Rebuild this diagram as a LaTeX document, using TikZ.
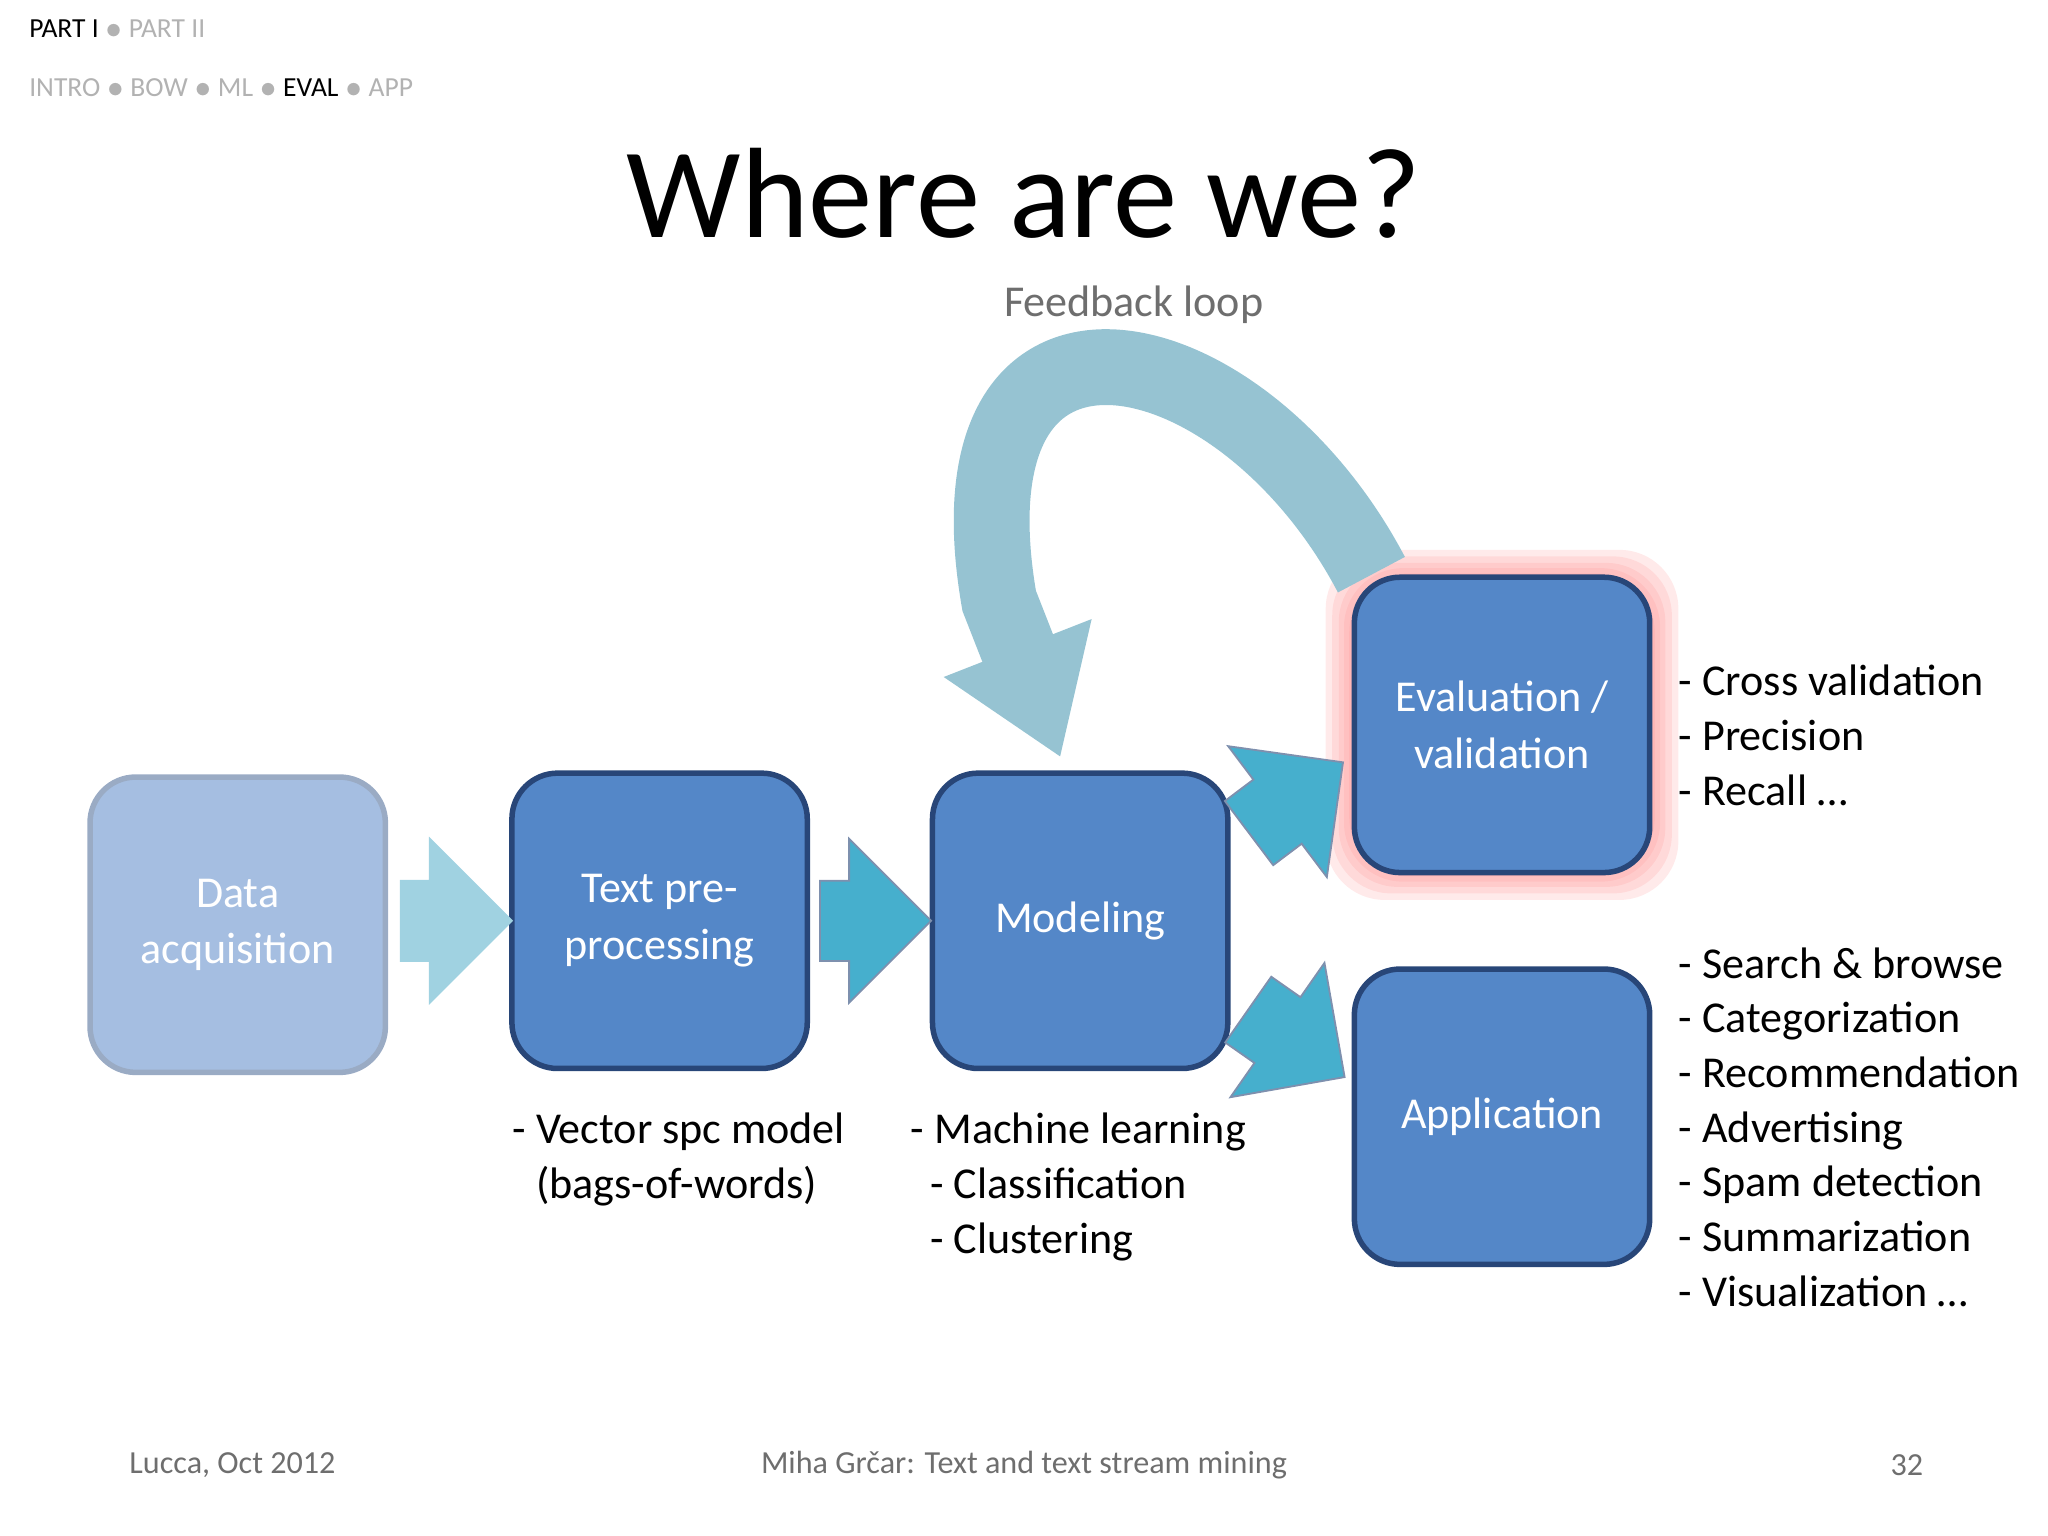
\documentclass[tikz,border=0pt]{standalone}
\usepackage{fontspec}
\setmainfont{Carlito}
\usetikzlibrary{shapes.arrows,arrows.meta}
\definecolor{boxblue}{RGB}{84,135,200}
\definecolor{boxedge}{RGB}{40,70,120}
\definecolor{paleblue}{RGB}{165,190,225}
\definecolor{arrowcyan}{RGB}{70,175,205}
\definecolor{arrowpale}{RGB}{160,210,225}
\definecolor{loopblue}{RGB}{150,195,210}
\definecolor{greytext}{RGB}{110,110,110}
\tikzset{
  stage/.style={draw=boxedge, line width=1.2pt, fill=boxblue, rounded corners=0.35cm,
    minimum width=2.26cm, minimum height=2.26cm, align=center, text=white, font=\fontsize{9.6}{12.3}\selectfont},
  flow/.style={single arrow, fill=arrowcyan, draw=boxedge!60, minimum height=0.85cm,
    inner xsep=0pt, inner ysep=0.3cm, single arrow head extend=0.32cm, rotate=#1},
  flow/.default=0,
  list/.style={anchor=north west, align=left, font=\fontsize{9.6}{11.9}\selectfont}
}
\begin{document}
\begin{tikzpicture}[x=0.01cm,y=-0.01cm]
  \useasboundingbox (0,0) rectangle (1568,1176);
  %% Header and title
  \node[anchor=west, font=\fontsize{6}{7}\selectfont] (parts) at (10,22) {PART I \textcolor{gray!60}{$\bullet$ PART II}};
  \node[anchor=west, font=\fontsize{6}{7}\selectfont, text=gray!60] (sects) at (10,67) {INTRO $\bullet$ BOW $\bullet$ ML $\bullet$ \textcolor{black}{EVAL} $\bullet$ APP};
  \node[font=\fontsize{28}{32}\selectfont] (title) at (784,148) {Where are we?};
  %% Glow behind evaluation
  \foreach \g in {22,17,12,8,4}
    \fill[red!45, opacity=0.18, rounded corners=0.45cm] (1037-\g,443-\g) rectangle (1263+\g,667+\g);
  %% Stages
  \node[stage, fill=paleblue, draw=paleblue!70!gray, text=white] (data) at (182,708) {Data\\acquisition};
  \node[stage] (prep) at (505,705) {Text pre-\\processing};
  \node[stage] (model) at (827,705) {Modeling};
  \node[stage] (eval) at (1150,555) {Evaluation /\\validation};
  \node[stage] (app) at (1150,855) {Application};
  %% Block arrows
  \node[flow, fill=arrowpale, draw=arrowpale] (a1) at (334,705) {};
  \node[flow] (a2) at (655,705) {};
  \node[flow=37, minimum height=0.9cm] (a3) at (980,620) {};
  \node[flow=-35, minimum height=0.9cm] (a4) at (980,790) {};
  %% Feedback loop
  \coordinate (loopstart) at (1050,440);
  \coordinate (looptip) at (812,580);
  \draw[loopblue, line width=0.58cm, -{Triangle[width=1.15cm,length=0.9cm]}]
    (loopstart) .. controls (950,250) and (720,200) .. (765,460) -- (looptip);
  \node[text=greytext, font=\fontsize{9.6}{12}\selectfont] (looplbl) at (868,233) {Feedback loop};
  %% Lists
  \node[list] (prepl) at (380,840) {- Vector spc model\\\hspace{0.18cm}(bags-of-words)};
  \node[list] (modell) at (685,840) {- Machine learning\\\hspace{0.15cm}- Classification\\\hspace{0.15cm}- Clustering};
  \node[list] (evall) at (1273,497) {- Cross validation\\- Precision\\- Recall …};
  \node[list] (appl) at (1273,713) {- Search \& browse\\- Categorization\\- Recommendation\\- Advertising\\- Spam detection\\- Summarization\\- Visualization …};
  %% Footer
  \node[text=greytext, font=\fontsize{7}{8}\selectfont] (foot1) at (178,1122) {Lucca, Oct 2012};
  \node[text=greytext, font=\fontsize{7}{8}\selectfont] (foot2) at (784,1122) {Miha Grčar: Text and text stream mining};
  \node[text=greytext, font=\fontsize{7}{8}\selectfont] (foot3) at (1460,1122) {32};
\end{tikzpicture}
\end{document}
